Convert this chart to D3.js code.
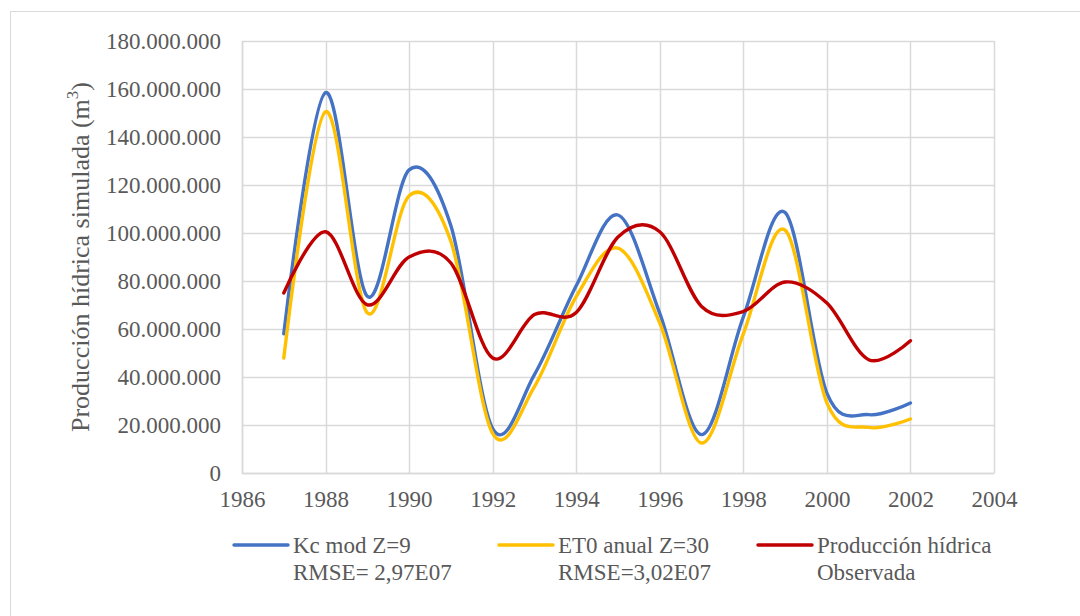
<!DOCTYPE html>
<html>
<head>
<meta charset="utf-8">
<script src="https://cdn.jsdelivr.net/npm/d3@7"></script>
<style>
  html, body { margin: 0; padding: 0; background: #fff; }
  svg { display: block; }
  svg text { font-family: "Liberation Serif", "Times New Roman", serif !important; fill: #595959; }
</style>
</head>
<body>
<svg id="chart" width="1080" height="616"></svg>
<script>
// ---- data ----
const years = [1987,1988,1989,1990,1991,1992,1993,1994,1995,1996,1997,1998,1999,2000,2001,2002];
const kcMod = [58.0e6,158.5e6,73.6e6,126.3e6,103e6,18.5e6,41e6,78e6,107.5e6,66.5e6,16e6,65e6,108.5e6,33.3e6,24.3e6,29.2e6];
const et0Anual = [47.9e6,150.5e6,66.7e6,115.5e6,96.5e6,16.5e6,36e6,73.5e6,93.7e6,62.5e6,12.5e6,58e6,101.2e6,29.2e6,19e6,22.5e6];
const observada = [75e6,100.5e6,70.1e6,90e6,87.5e6,47.9e6,66e6,66.9e6,98.3e6,100.5e6,69.4e6,67.3e6,79.6e6,70.8e6,47.2e6,55.1e6];
const xTicks = [1986,1988,1990,1992,1994,1996,1998,2000,2002,2004];
const yTicks = [0,20e6,40e6,60e6,80e6,100e6,120e6,140e6,160e6,180e6];
const seriesNames = [["Kc mod Z=9","RMSE= 2,97E07"],["ET0 anual Z=30","RMSE=3,02E07"],["Producción hídrica","Observada"]];
const seriesColors = ["#4472C4","#FFC000","#C00000"];

const FONT = "'Liberation Serif', 'Times New Roman', serif";
const svg = d3.select("#chart");
const plot = {left: 242, right: 994, top: 41, bottom: 473};

// outer chart border
svg.append("rect").attr("x", 10.5).attr("y", 11.5).attr("width", 1080).attr("height", 620)
  .attr("fill", "none").attr("stroke", "#d9d9d9").attr("stroke-width", 1);

const x = d3.scaleLinear().domain([1986, 2004]).range([plot.left, plot.right]);
const y = d3.scaleLinear().domain([0, 180e6]).range([plot.bottom, plot.top]);

const fmt = v => v === 0 ? "0" : d3.format(",")(v).replace(/,/g, ".");

// gridlines
const grid = svg.append("g");
grid.selectAll("line.h").data(yTicks).join("line")
  .attr("x1", plot.left).attr("x2", plot.right)
  .attr("y1", d => Math.round(y(d)) + 0.5).attr("y2", d => Math.round(y(d)) + 0.5)
  .attr("stroke", "#d9d9d9").attr("stroke-width", 1.5);
grid.selectAll("line.v").data(xTicks).join("line")
  .attr("y1", plot.top).attr("y2", plot.bottom)
  .attr("x1", d => Math.round(x(d)) + 0.5).attr("x2", d => Math.round(x(d)) + 0.5)
  .attr("stroke", "#d9d9d9").attr("stroke-width", 1.5);

// axes
const yAxis = svg.append("g").attr("transform", `translate(${plot.left},0)`)
  .call(d3.axisLeft(y).tickValues(yTicks).tickFormat(fmt).tickSize(0).tickPadding(21));
yAxis.attr("font-family", null).attr("font-size", null);
yAxis.select(".domain").attr("stroke", "#d9d9d9").attr("stroke-width", 1.5);
yAxis.selectAll("text").style("font-size", "23px").style("font-family", FONT).attr("fill", "#595959");

const xAxis = svg.append("g").attr("transform", `translate(0,${plot.bottom})`)
  .call(d3.axisBottom(x).tickValues(xTicks).tickFormat(d3.format("d")).tickSize(0).tickPadding(18));
xAxis.attr("font-family", null).attr("font-size", null);
xAxis.select(".domain").attr("stroke", "#d9d9d9").attr("stroke-width", 1.5);
xAxis.selectAll("text").style("font-size", "23px").style("font-family", FONT).attr("fill", "#595959");

// y axis title
const yt = svg.append("text")
  .attr("transform", `translate(89,${(plot.top + plot.bottom) / 2}) rotate(-90)`)
  .attr("text-anchor", "middle").style("font-size", "26px").style("font-family", FONT);
yt.append("tspan").text("Producción hídrica simulada (m");
yt.append("tspan").text("3").style("font-size", "17px").attr("dy", -11);
yt.append("tspan").text(")").attr("dy", 11);

// lines
const allSeries = [kcMod, et0Anual, observada];
const line = d3.line().x((d, i) => x(years[i])).y(d => y(d)).curve(d3.curveCardinal.tension(0));
svg.append("g").selectAll("path").data(allSeries).join("path")
  .attr("d", d => line(d))
  .attr("fill", "none")
  .attr("stroke", (d, i) => seriesColors[i])
  .attr("stroke-width", 3.4)
  .attr("stroke-linecap", "round")
  .attr("stroke-linejoin", "round");

// legend
const legX = [234, 499, 758];
const leg = svg.append("g");
seriesNames.forEach((names, i) => {
  const g = leg.append("g").attr("transform", `translate(${legX[i]},545)`);
  g.append("line").attr("x1", 0).attr("x2", 54).attr("y1", 0).attr("y2", 0)
    .attr("stroke", seriesColors[i]).attr("stroke-width", 3.4).attr("stroke-linecap", "round");
  const t = g.append("text").style("font-size", "23px").style("font-family", FONT);
  t.append("tspan").attr("x", 59).attr("y", 8).text(names[0]);
  t.append("tspan").attr("x", 59).attr("y", 35).text(names[1]);
});
</script>
</body>
</html>
